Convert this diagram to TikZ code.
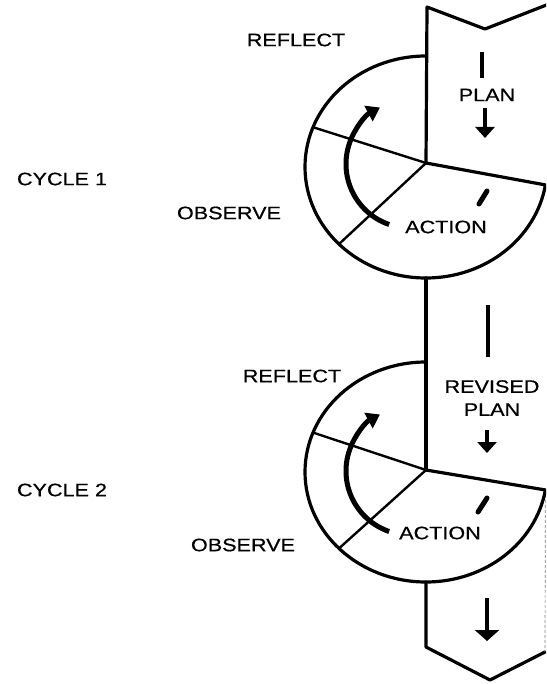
\documentclass[tikz,border=0pt]{standalone}
\usepackage{fontspec}
\setmainfont{Liberation Sans}[FakeStretch=1.2,FakeBold=0.6]
\usetikzlibrary{arrows.meta,calc}
\begin{document}
\begin{tikzpicture}[x=1pt,y=-1pt,
  outline/.style={line width=3.2pt, line join=round, line cap=round},
  divider/.style={line width=2.4pt},
  lbl/.style={font=\fontsize{18}{23}\selectfont, inner sep=0pt, align=center},
  dashmark/.style={line width=4.5pt},
  slantmark/.style={line width=5pt, line cap=round},
  bigarrow/.style={line width=5pt, -{Triangle[width=17pt,length=13pt]}},
  downarrow/.style={line width=4.5pt, -{Triangle[width=19pt,length=11pt]}},
  widearrow/.style={line width=4.5pt, -{Triangle[width=24pt,length=11pt]}},
  edge/.style={line width=0.7pt, gray, dash pattern=on 3pt off 2pt}]
\useasboundingbox (0,0) rectangle (546,684);
\clip (0,0) rectangle (546,684);
\fill[white] (0,0) rectangle (546,684);

% ---- band top
\coordinate (t1) at (427,7);
\coordinate (t2) at (485,29);
\coordinate (t3) at (549,4);

% ---- cycle 1 geometry
\coordinate (c1) at (426,167);
\coordinate (j1) at (426,163);
\coordinate (top1) at ($(c1)+(270:121 and 111)$);
\coordinate (r1) at ($(c1)+(9.3:121 and 111)$);
\coordinate (ul1) at ($(c1)+(201:121 and 111)$);
\coordinate (ll1) at ($(c1)+(136:121 and 111)$);
\coordinate (bot1) at ($(c1)+(90:121 and 111)$);

% ---- cycle 2 geometry
\coordinate (c2) at (426,472);
\coordinate (j2) at (426,470);
\coordinate (top2) at ($(c2)+(270:121 and 110)$);
\coordinate (r2) at ($(c2)+(9.4:121 and 110)$);
\coordinate (ul2) at ($(c2)+(201:121 and 110)$);
\coordinate (ll2) at ($(c2)+(136:121 and 110)$);
\coordinate (bot2) at ($(c2)+(90:121 and 110)$);

% ---- band bottom
\coordinate (b1) at (426,647);
\coordinate (b2) at (490,680);
\coordinate (b3) at (545,652);

% band outline
\draw[outline] (t3) -- (t2) -- (t1) -- (j1);
\draw[outline] (bot1) -- (j2);
\draw[outline] (bot2) -- (b1) -- (b2) -- (b3);
\draw[edge] (r2) -- (b3);

% cycle 1 disc
\draw[outline] (top1) arc[start angle=270, end angle=9.3, x radius=121, y radius=111] -- (j1);
\draw[divider] (j1) -- (ul1);
\draw[divider] (j1) -- (ll1);

% cycle 2 disc
\draw[outline] (top2) arc[start angle=270, end angle=9.4, x radius=121, y radius=110] -- (j2);
\draw[divider] (j2) -- (ul2);
\draw[divider] (j2) -- (ll2);

% ---- cycle 1 marks
\coordinate (d1a) at (482,52);
\coordinate (d1b) at (482,78);
\draw[dashmark] (d1a) -- (d1b);
\coordinate (p1a) at (485,108);
\coordinate (p1b) at (485,138);
\draw[downarrow] (p1a) -- (p1b);
\coordinate (s1a) at (487,191);
\coordinate (s1b) at (479,204);
\draw[slantmark] (s1a) -- (s1b);
\coordinate (k1) at (410,164);
\draw[bigarrow] ($(k1)+(109:64)$) arc[start angle=109, end angle=242, radius=64];

% ---- cycle 2 marks
\coordinate (d2a) at (488,305);
\coordinate (d2b) at (488,357);
\draw[dashmark] (d2a) -- (d2b);
\coordinate (p2a) at (487,430);
\coordinate (p2b) at (487,453);
\draw[downarrow] (p2a) -- (p2b);
\coordinate (s2a) at (487,498);
\coordinate (s2b) at (478,512);
\draw[slantmark] (s2a) -- (s2b);
\coordinate (k2) at (410,471);
\draw[bigarrow] ($(k2)+(109:64)$) arc[start angle=109, end angle=242, radius=64];
\coordinate (e3a) at (487,598);
\coordinate (e3b) at (487,641);
\draw[widearrow] (e3a) -- (e3b);

% ---- labels
\node[lbl] (reflect1) at (296,40) {REFLECT};
\node[lbl] (cycle1) at (62,179) {CYCLE 1};
\node[lbl] (observe1) at (229,213) {OBSERVE};
\node[lbl] (plan1) at (487,95) {PLAN};
\node[lbl] (action1) at (446,227) {ACTION};

\node[lbl] (reflect2) at (292,376) {REFLECT};
\node[lbl] (cycle2) at (62,490) {CYCLE 2};
\node[lbl] (observe2) at (243,545) {OBSERVE};
\node[lbl] (plan2) at (492,398) {REVISED\\PLAN};
\node[lbl] (action2) at (440,533) {ACTION};
\end{tikzpicture}
\end{document}
